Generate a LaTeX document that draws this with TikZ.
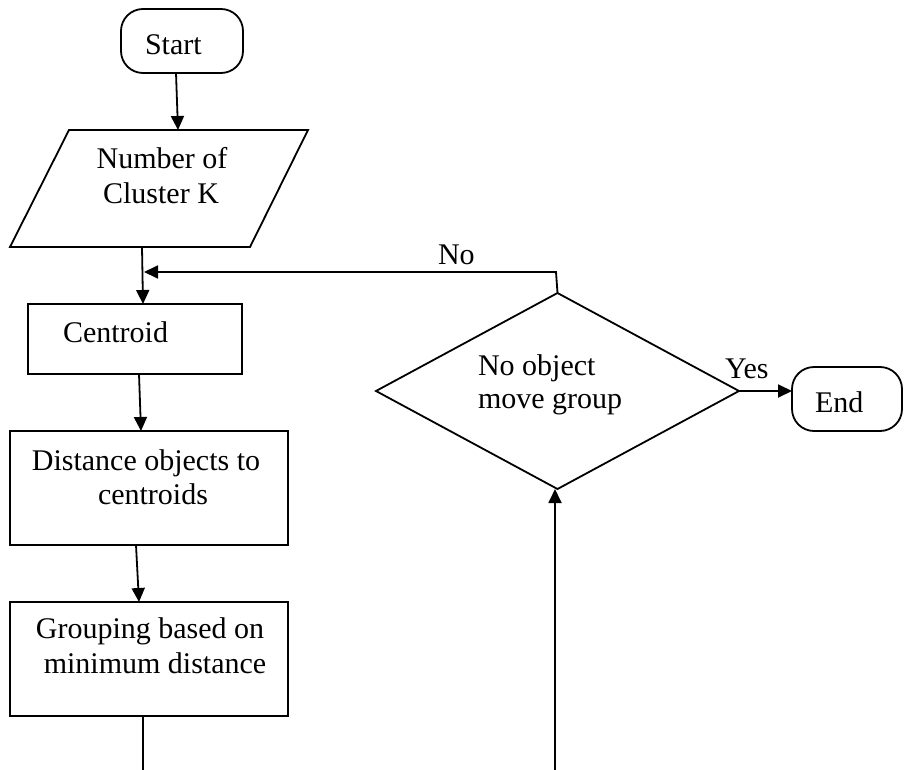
\documentclass[tikz,border=0pt]{standalone}
\usepackage{fontspec}
\setmainfont{Liberation Serif}
\usetikzlibrary{shapes.geometric,arrows.meta}
\begin{document}
\begin{tikzpicture}[x=1pt,y=-1pt,
  shp/.style={draw=black, line width=1.8pt, inner sep=0pt, outer sep=0pt},
  boxshape/.style={shp, rectangle},
  termshape/.style={shp, rectangle, rounded corners=22pt},
  decshape/.style={shp, diamond},
  conn/.style={line width=1.8pt},
  arr/.style={conn, -{Triangle[length=14pt,width=13pt]}},
  lbl/.style={font=\fontsize{30}{34}\selectfont, inner sep=0pt, outer sep=0pt}
]
\useasboundingbox (0,0) rectangle (904,770);

% shapes
\node[termshape, minimum width=122pt, minimum height=64pt] (start) at (182,41) {};
\node[inner sep=0pt, outer sep=0pt, minimum width=298pt, minimum height=117pt] (inp) at (159,188.5) {};
\draw[line width=1.8pt, line join=miter]
  ([xshift=59pt]inp.north west) -- (inp.north east) -- ([xshift=-58pt]inp.south east)
  -- (inp.south west) -- cycle;
\node[boxshape, minimum width=214pt, minimum height=70pt] (cent) at (135,339) {};
\node[boxshape, minimum width=278pt, minimum height=114pt] (dist) at (149,488) {};
\node[boxshape, minimum width=278pt, minimum height=114pt] (grp) at (149,659) {};
\node[decshape, minimum width=363pt, minimum height=196pt] (dec) at (557.5,391) {};
\node[termshape, minimum width=110pt, minimum height=64pt] (endn) at (847,399) {};

% labels
\node[lbl, anchor=base west] (tstart) at (145,55) {Start};
\node[lbl, anchor=base] (tinp1) at (162,168) {Number of};
\node[lbl, anchor=base] (tinp2) at (161,203) {Cluster K};
\node[lbl, anchor=base west] (tcent) at (63,342) {Centroid};
\node[lbl, anchor=base] (tdist1) at (146,470) {Distance objects to};
\node[lbl, anchor=base] (tdist2) at (153,504) {centroids};
\node[lbl, anchor=base] (tgrp1) at (150,638) {Grouping based on};
\node[lbl, anchor=base] (tgrp2) at (155,673) {minimum distance};
\node[lbl, anchor=base west] (tdec1) at (478,375) {No object};
\node[lbl, anchor=base west] (tdec2) at (478,408) {move group};
\node[lbl, anchor=base west] (tno) at (438,264) {No};
\node[lbl, anchor=base west] (tyes) at (725,378) {Yes};
\node[lbl, anchor=base west] (tend) at (815,412) {End};

% free ends
\coordinate (noy) at (144,272);
\coordinate (bot1) at (143,770);
\coordinate (bot2) at (555,770);

% connectors
\draw[arr] ([xshift=-6pt]start.south) -- ([xshift=19pt]inp.north);
\draw[arr] ([xshift=-17pt]inp.south) -- ([xshift=8pt]cent.north);
\draw[arr] (dec.north) -- ([xshift=-1.5pt]dec.north |- noy) -- (noy);
\draw[arr] ([xshift=4pt]cent.south) -- ([xshift=-8pt]dist.north);
\draw[arr] ([xshift=-13pt]dist.south) -- ([xshift=-10pt]grp.north);
\draw[conn] ([xshift=-6pt]grp.south) -- (bot1);
\draw[arr] (bot2) -- (bot2 |- dec.south);
\draw[arr] (dec.east) -- (dec.east -| endn.west);
\end{tikzpicture}
\end{document}
